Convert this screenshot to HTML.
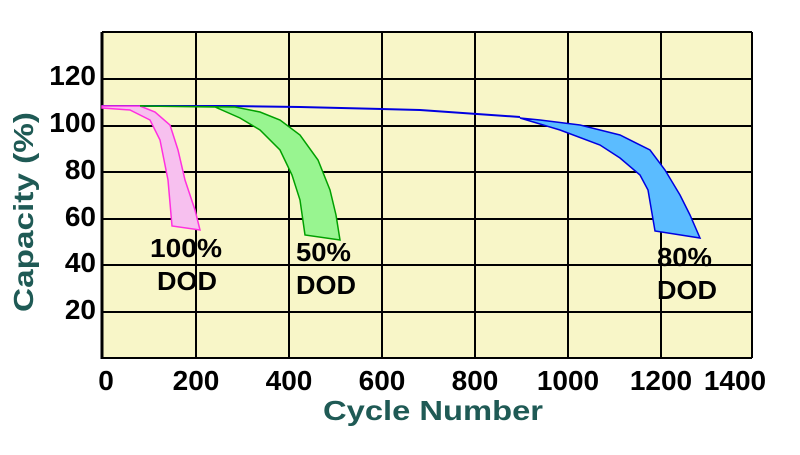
<!DOCTYPE html>
<html><head><style>body{margin:0;background:#fff;width:800px;height:450px;overflow:hidden}</style></head>
<body>
<svg width="800" height="450" xmlns="http://www.w3.org/2000/svg" style="font-family:'Liberation Sans',Arial,sans-serif;font-weight:bold">
<rect x="102" y="32" width="650" height="326" fill="#f8f6c8"/>
<g stroke="#000" stroke-width="2">
<line x1="102" y1="32" x2="752" y2="32"/>
<line x1="102" y1="79" x2="752" y2="79"/>
<line x1="102" y1="126" x2="752" y2="126"/>
<line x1="102" y1="172" x2="752" y2="172"/>
<line x1="102" y1="219" x2="752" y2="219"/>
<line x1="102" y1="265" x2="752" y2="265"/>
<line x1="102" y1="312" x2="752" y2="312"/>
<line x1="196" y1="32" x2="196" y2="358"/>
<line x1="289" y1="32" x2="289" y2="358"/>
<line x1="382" y1="32" x2="382" y2="358"/>
<line x1="475" y1="32" x2="475" y2="358"/>
<line x1="568" y1="32" x2="568" y2="358"/>
<line x1="661" y1="32" x2="661" y2="358"/>
<line x1="752" y1="32" x2="752" y2="358"/>
<line x1="102" y1="358" x2="752" y2="358"/>
</g>
<line x1="102" y1="32" x2="102" y2="359" stroke="#000" stroke-width="3"/>
<polyline points="102,106 140,106 178,106 230,106 300,107 420,110 520,117" fill="none" stroke="#0000e0" stroke-width="2"/>
<path d="M102,108 L130,110 L150,120 L160,140 L168,180 L172,226 L200,230 L195,210 L185,180 L178,150 L170,125 L155,112 L140,106 L102,106 Z" fill="#f7c0ef" stroke="#ff30e0" stroke-width="1.5"/>
<path d="M140,106 L215,107 L240,118 L260,130 L280,150 L292,175 L300,200 L305,235 L340,240 L336,215 L330,190 L318,160 L300,135 L280,120 L260,112 L235,107 Z" fill="#98f590" stroke="#00a000" stroke-width="1.5"/>
<path d="M520,118 L560,130 L600,145 L620,158 L640,175 L648,190 L655,231 L700,238 L690,215 L680,195 L665,170 L650,150 L620,135 L580,125 L540,120 Z" fill="#5bbcff" stroke="#0000e0" stroke-width="1.5"/>
<g font-size="26" fill="#000">
<text x="150" y="257" textLength="72" lengthAdjust="spacingAndGlyphs">100%</text><text x="157" y="290" textLength="60" lengthAdjust="spacingAndGlyphs">DOD</text>
<text x="296" y="261" textLength="55" lengthAdjust="spacingAndGlyphs">50%</text><text x="296" y="294" textLength="60" lengthAdjust="spacingAndGlyphs">DOD</text>
<text x="657" y="266" textLength="55" lengthAdjust="spacingAndGlyphs">80%</text><text x="657" y="299" textLength="60" lengthAdjust="spacingAndGlyphs">DOD</text>
</g>
<g font-size="28" fill="#000" text-anchor="end">
<text x="96" y="85">120</text><text x="96" y="132">100</text><text x="96" y="179">80</text>
<text x="96" y="226">60</text><text x="96" y="272">40</text><text x="96" y="319">20</text>
</g>
<g font-size="28" fill="#000" text-anchor="middle">
<text x="106" y="390">0</text><text x="196" y="390">200</text><text x="289" y="390">400</text>
<text x="382" y="390">600</text><text x="475" y="390">800</text><text x="568" y="390">1000</text>
<text x="661" y="390">1200</text><text x="735" y="390">1400</text>
</g>
<text x="323" y="420" font-size="28" fill="#1f5a55" textLength="220" lengthAdjust="spacingAndGlyphs">Cycle Number</text>
<text transform="translate(33,312) rotate(-90)" font-size="28" fill="#1f5a55" textLength="200" lengthAdjust="spacingAndGlyphs">Capacity (%)</text>
</svg>
</body></html>
